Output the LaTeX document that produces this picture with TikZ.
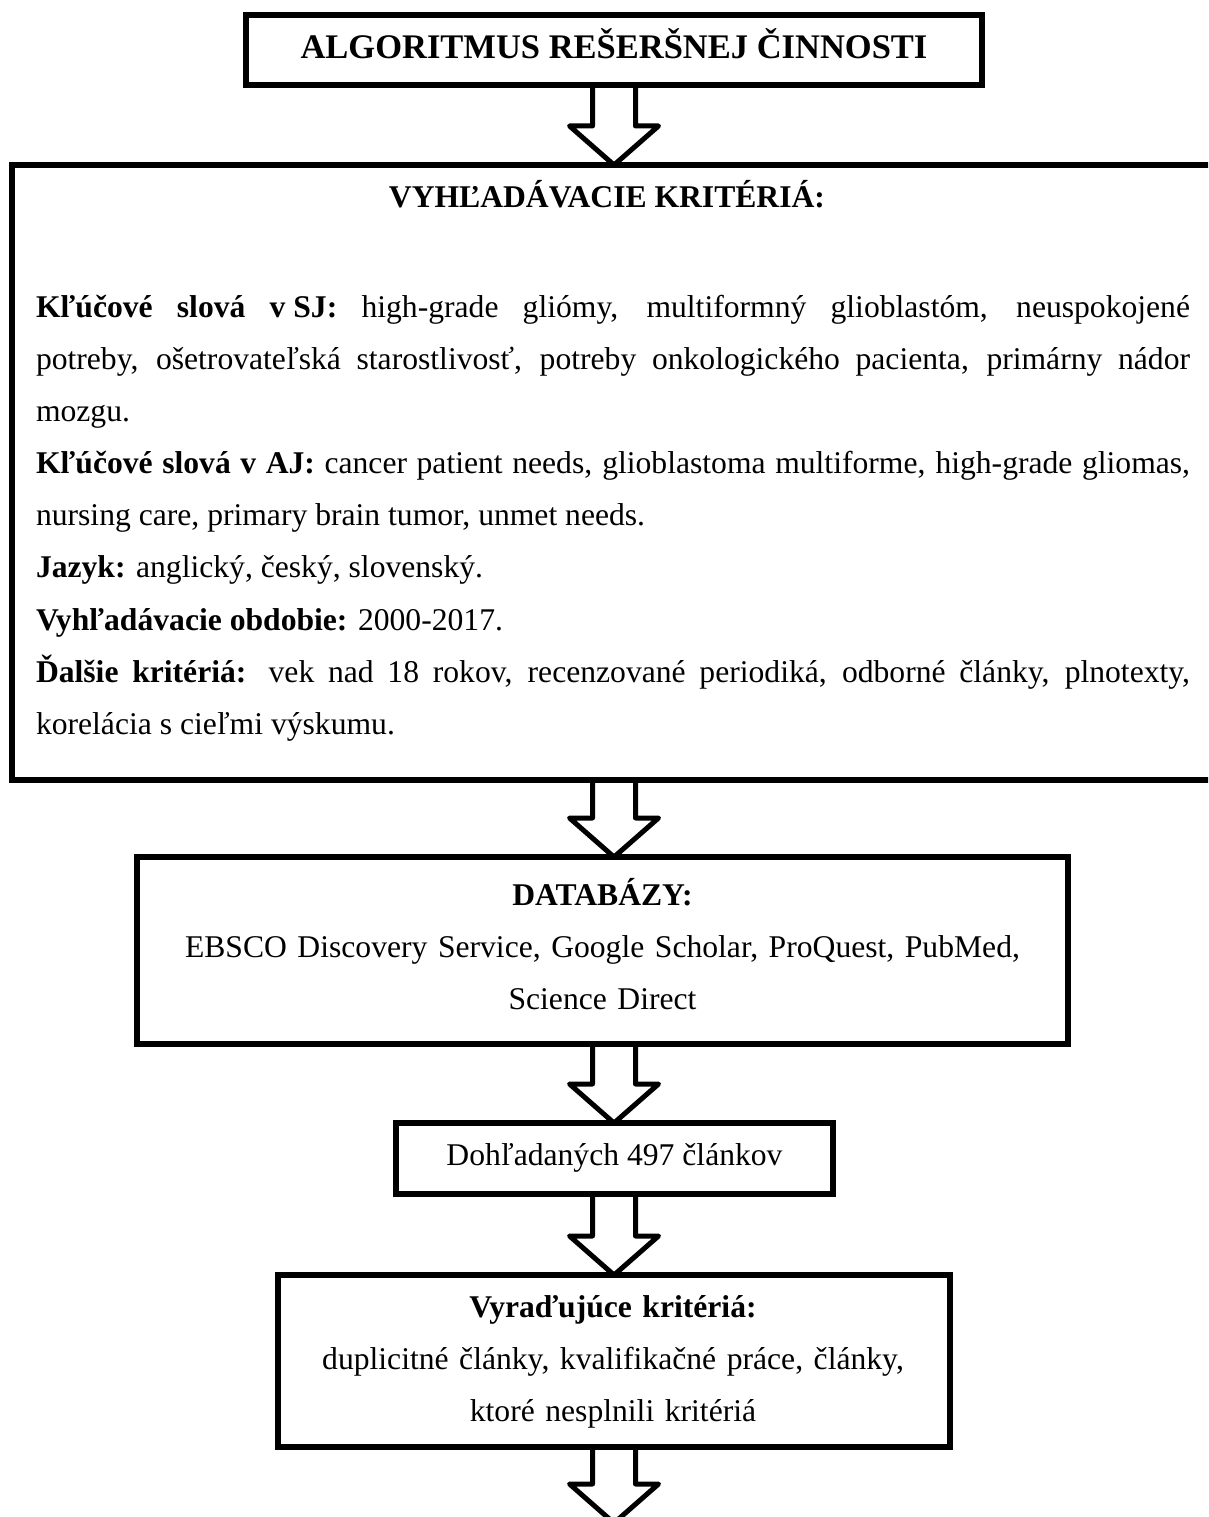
\documentclass[tikz,border=0pt]{standalone}
\usepackage{fontspec}
\setmainfont{Liberation Serif}
\usetikzlibrary{calc}
\newcommand\blockarrow[2]{%
  \draw[barrow] ($(#1.south -| axis)+(-21.5,0)$) -- ($(#2.north -| axis)+(-21.5,-39)$)
    -- ($(#2.north -| axis)+(-44.5,-39)$) -- (#2.north -| axis)
    -- ($(#2.north -| axis)+(44.5,-39)$) -- ($(#2.north -| axis)+(21.5,-39)$)
    -- ($(#1.south -| axis)+(21.5,0)$);}
\begin{document}
\begin{tikzpicture}[x=0.4pt,y=-0.4pt,
  framebox/.style={draw, line width=2.4pt, rectangle, outer sep=0pt, inner sep=0pt},
  txt/.style={inner sep=0pt, outer sep=0pt, font=\fontsize{12.65pt}{20.8pt}\selectfont},
  txtb/.style={inner sep=0pt, outer sep=0pt, font=\fontsize{12.65pt}{20.8pt}\selectfont\bfseries},
  titletxt/.style={inner sep=0pt, outer sep=0pt, font=\fontsize{13.8pt}{20.8pt}\selectfont\bfseries},
  barrow/.style={line width=2pt, line join=round}]
\useasboundingbox (0,0) rectangle (1208,1517);
\clip (0,0) rectangle (1208,1517);
\coordinate (axis) at (614,0);

% boxes
\node[framebox, minimum width=294.4pt, minimum height=28pt] (title) at (614,50) {};
\node[framebox, minimum width=481.6pt, minimum height=246pt] (crit) at (614,472.5) {};
\node[framebox, minimum width=372.4pt, minimum height=74.8pt] (db) at (602.5,950.5) {};
\node[framebox, minimum width=174.8pt, minimum height=28.4pt] (found) at (614.5,1158.5) {};
\node[framebox, minimum width=268.8pt, minimum height=68.8pt] (excl) at (614,1361) {};
\coordinate (end) at (614,1523);

% texts
\node[titletxt, anchor=base] (ttitle) at (614,59) {ALGORITMUS REŠERŠNEJ ČINNOSTI};
\node[txtb, anchor=base] (tcrit) at (607,208) {VYHĽADÁVACIE KRITÉRIÁ:};
\node[txt, anchor=base west, text width=461.6pt, align=justify] (tcritbody) at (36,318)
 {\hyphenpenalty=10000 \exhyphenpenalty=10000
  \textbf{Kľúčové slová \mbox{v SJ:}} high-grade gliómy, multiformný glioblastóm, neuspokojené\linebreak
  potreby, ošetrovateľská starostlivosť, potreby onkologického pacienta, primárny nádor\linebreak
  mozgu.\par
  \textbf{Kľúčové slová v AJ:} cancer patient needs, glioblastoma multiforme, high-grade gliomas,\linebreak
  nursing care, primary brain tumor, unmet needs.\par
  \textbf{Jazyk:} anglický, český, slovenský.\par
  \textbf{Vyhľadávacie obdobie:} 2000-2017.\par
  \textbf{Ďalšie kritériá:} vek nad 18 rokov, recenzované periodiká, odborné články, plnotexty,\linebreak
  korelácia s cieľmi výskumu.};
\node[txt, anchor=base, text width=372pt, align=center] (tdb) at (602.5,905)
 {\textbf{DATABÁZY:}\\
  EBSCO Discovery Service, Google Scholar, ProQuest, PubMed,\\
  Science Direct};
\node[txt, anchor=base] (tfound) at (614.5,1165) {Dohľadaných 497 článkov};
\node[txt, anchor=base, text width=268pt, align=center] (texcl) at (613,1317)
 {\textbf{Vyraďujúce kritériá:}\\
  duplicitné články, kvalifikačné práce, články,\\
  ktoré nesplnili kritériá};

% arrows
\blockarrow{title}{crit}
\blockarrow{crit}{db}
\blockarrow{db}{found}
\blockarrow{found}{excl}
\blockarrow{excl}{end}
\end{tikzpicture}
\end{document}
